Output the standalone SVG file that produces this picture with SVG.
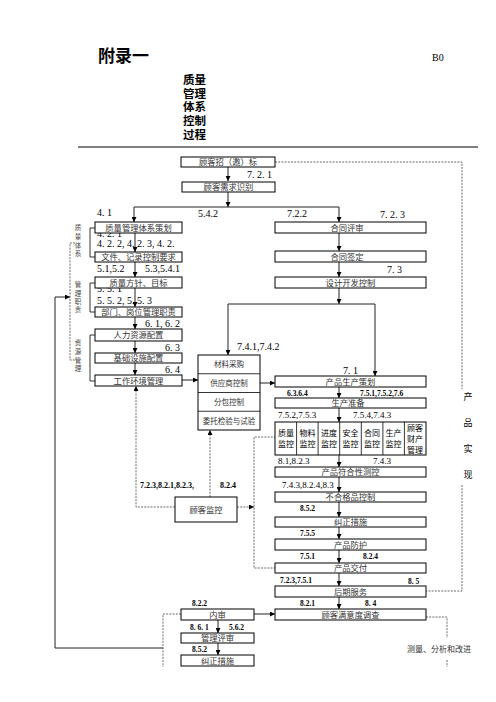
<svg xmlns="http://www.w3.org/2000/svg" width="496" height="702" viewBox="0 0 496 702">
<style>
text{font-family:"Liberation Serif","Noto Sans CJK SC",serif;fill:#000}
.t{font-size:8.3px;fill:#333;text-anchor:middle}
.tm{font-size:7.5px;fill:#333;text-anchor:middle}
.l{font-size:10px}
.m{font-size:9px}
.s{font-size:7.5px;font-weight:bold}
.s8{font-size:8px;font-weight:bold}
.v{font-size:6.5px;fill:#444;text-anchor:middle}
.b{fill:#fff;stroke:#000;stroke-width:1}
.c{fill:none;stroke:#222;stroke-width:1}
.d{fill:none;stroke:#444;stroke-width:0.8;stroke-dasharray:2 1.2}
.k{fill:none;stroke:#000;stroke-width:0.8}
</style>
<defs>
<marker id="ah" viewBox="0 0 6 6" refX="6" refY="3" markerWidth="5" markerHeight="5" orient="auto" markerUnits="userSpaceOnUse"><path d="M0,0 L6,3 L0,6 z" fill="#000"/></marker>
</defs>

<g id="header">
<text x="98" y="62" style="font-family:'Noto Sans CJK SC',sans-serif;font-size:17px;font-weight:bold">附录一</text>
<text x="432" y="61" style="font-size:10px">B0</text>
<g style="font-family:'Noto Sans CJK SC',sans-serif;font-size:11.5px;font-weight:bold">
<text x="183" y="84">质量</text>
<text x="183" y="98">管理</text>
<text x="183" y="111">体系</text>
<text x="183" y="125">控制</text>
<text x="183" y="139">过程</text>
</g>
<line x1="78" y1="147" x2="478" y2="147" stroke="#000" stroke-width="1"/>
</g>

<g id="labels">
<text class="l" x="247" y="178">7. 2. 1</text>
<text class="l" x="97" y="216">4. 1</text>
<text class="l" x="198" y="217">5.4.2</text>
<text class="l" x="287" y="217">7.2.2</text>
<text class="l" x="380" y="218">7. 2. 3</text>
<text class="l" x="97" y="236.5">4. 2. 1</text>
<text class="l" x="97" y="247">4. 2. 2, 4. 2. 3, 4. 2.</text>
<text class="l" x="97" y="272">5.1,5.2</text>
<text class="l" x="145" y="272">5.3,5.4.1</text>
<text class="l" x="97" y="291.5">5. 5. 1</text>
<text class="l" x="97" y="304">5. 5. 2, 5. 5. 3</text>
<text class="l" x="145" y="327">6. 1, 6. 2</text>
<text class="l" x="165" y="351">6. 3</text>
<text class="l" x="165" y="373">6. 4</text>
<text class="l" x="387" y="273">7. 3</text>
<text class="l" x="237" y="350">7.4.1,7.4.2</text>
<text class="l" x="343" y="374">7. 1</text>
<text class="s" x="287" y="396">6.3.6.4</text>
<text class="s" x="360" y="396">7.5.1,7.5.2,7.6</text>
<text class="m" x="278" y="418">7.5.2,7.5.3</text>
<text class="m" x="353" y="418">7.5.4,7.4.3</text>
<text class="m" x="278" y="464">8.1,8.2.3</text>
<text class="m" x="373" y="464">7.4.3</text>
<text class="m" x="282" y="488">7.4.3,8.2.4,8.3</text>
<text class="s" x="300" y="511">8.5.2</text>
<text class="s" x="300" y="536">7.5.5</text>
<text class="s" x="300" y="559">7.5.1</text>
<text class="s" x="363" y="559">8.2.4</text>
<text class="s" x="280" y="583">7.2.3,7.5.1</text>
<text class="s" x="408" y="584">8. 5</text>
<text class="s" x="300" y="606">8.2.1</text>
<text class="s" x="365" y="606">8. 4</text>
<text class="s" x="192" y="606">8.2.2</text>
<text class="s" x="190" y="630">8. 6. 1</text>
<text class="s" x="229" y="630">5.6.2</text>
<text class="s" x="192" y="652">8.5.2</text>
<text class="s8" x="140" y="488">7.2.3,8.2.1,8.2.3,</text>
<text class="s8" x="220" y="488">8.2.4</text>
<text class="v" x="78" y="230">质</text>
<text class="v" x="78" y="239">量</text>
<text class="v" x="78" y="248">体</text>
<text class="v" x="78" y="256">系</text>
<text class="v" x="78" y="287">管</text>
<text class="v" x="78" y="296">理</text>
<text class="v" x="78" y="304">职</text>
<text class="v" x="78" y="312">责</text>
<text class="v" x="78" y="345">资</text>
<text class="v" x="78" y="354">源</text>
<text class="v" x="78" y="363">管</text>
<text class="v" x="78" y="371">理</text>
<g style="font-size:9px;fill:#333;text-anchor:middle">
<text x="468" y="400">产</text>
<text x="468" y="426">品</text>
<text x="468" y="452">实</text>
<text x="468" y="478">现</text>
</g>
<text x="439" y="652" style="font-size:8px;fill:#333;text-anchor:middle">测量、分析和改进</text>
</g>

<g id="connectors">
<path class="c" d="M228,167 V181" marker-end="url(#ah)"/>
<path class="c" d="M228,192 V207" marker-end="url(#ah)"/>
<path class="c" d="M134,207 H339 V222" marker-end="url(#ah)"/>
<path class="c" d="M134,207 V222" marker-end="url(#ah)"/>
<path class="c" d="M135,233 V252" marker-end="url(#ah)"/>
<path class="c" d="M135,262 V277" marker-end="url(#ah)"/>
<path class="c" d="M135,288 V307" marker-end="url(#ah)"/>
<path class="c" d="M135,317 V329" marker-end="url(#ah)"/>
<path class="c" d="M135,341 V353" marker-end="url(#ah)"/>
<path class="c" d="M135,363 V375" marker-end="url(#ah)"/>
<path class="c" d="M182,380 H198" marker-end="url(#ah)"/>
<path class="c" d="M339,233 V251" marker-end="url(#ah)"/>
<path class="c" d="M339,262 V277" marker-end="url(#ah)"/>
<path class="c" d="M339,288 V304" marker-end="url(#ah)"/>
<path class="c" d="M228,304 H375 V376" marker-end="url(#ah)"/>
<path class="c" d="M228,304 V355" marker-end="url(#ah)"/>
<path class="c" d="M260,383 H275" marker-end="url(#ah)"/>
<path class="c" d="M339,387 V398" marker-end="url(#ah)"/>
<path class="c" d="M339,408 V422" marker-end="url(#ah)"/>
<path class="c" d="M339,455 V467" marker-end="url(#ah)"/>
<path class="c" d="M339,477 V492" marker-end="url(#ah)"/>
<path class="c" d="M339,502 V517" marker-end="url(#ah)"/>
<path class="c" d="M339,527 V539" marker-end="url(#ah)"/>
<path class="c" d="M339,550 V563" marker-end="url(#ah)"/>
<path class="c" d="M339,573 V586" marker-end="url(#ah)"/>
<path class="c" d="M339,597 V609" marker-end="url(#ah)"/>
<path class="c" d="M254,614 H275" marker-end="url(#ah)"/>
<path class="c" d="M218,620 V633" marker-end="url(#ah)"/>
<path class="c" d="M218,643 V655" marker-end="url(#ah)"/>
<path class="c" d="M163,648 H55 V297 H70" marker-end="url(#ah)"/>
<path class="d" d="M275,162 H462 V389"/>
<path class="d" d="M462,485 V591 H426"/>
<path class="d" d="M426,617 H447 V638"/>
<path class="d" d="M447,660 V667"/>
<path class="d" d="M181,614 H163 V667"/>
<path class="d" d="M175,507 H136 V386" marker-end="url(#ah)"/>
<path class="d" d="M210,497 V430" marker-end="url(#ah)"/>
<path class="d" d="M237,507 H254" marker-end="url(#ah)"/>
<path class="d" d="M276,437 H254 V568 H275"/>
<path class="k" d="M95,228 H90 V257 H95"/>
<path class="k" d="M95,283 H90 V312 H95"/>
<path class="k" d="M95,335 H90 V381 H95"/>
<path class="d" d="M75,243 H70 V360 H75"/>
</g>

<g id="n-zhaobiao"><rect class="b" x="181" y="157" width="94" height="10"/><text class="t" x="228" y="165">顾客招（邀）标</text></g>
<g id="n-xuqiu"><rect class="b" x="182" y="182" width="93" height="10"/><text class="t" x="228.5" y="190">顾客需求识别</text></g>

<g id="n-tixi"><rect class="b" x="95" y="222" width="87" height="11"/><text class="t" x="138.5" y="230.5">质量管理体系策划</text></g>
<g id="n-wenjian"><rect class="b" x="95" y="252" width="87" height="10"/><text class="t" x="138.5" y="260">文件、记录控制要求</text></g>
<g id="n-fangzhen"><rect class="b" x="95" y="277" width="87" height="11"/><text class="t" x="138.5" y="285.5">质量方针、目标</text></g>
<g id="n-zhize"><rect class="b" x="95" y="307" width="87" height="10"/><text class="t" x="138.5" y="315">部门、岗位管理职责</text></g>
<g id="n-renli"><rect class="b" x="95" y="329" width="87" height="12"/><text class="t" x="138.5" y="338">人力资源配置</text></g>
<g id="n-jichu"><rect class="b" x="95" y="353" width="87" height="10"/><text class="t" x="138.5" y="361">基础设施配置</text></g>
<g id="n-huanjing"><rect class="b" x="95" y="375" width="87" height="11"/><text class="t" x="138.5" y="383.5">工作环境管理</text></g>

<g id="n-caigou">
<rect class="b" x="198" y="355" width="62" height="75"/>
<line class="k" x1="198" y1="373.75" x2="260" y2="373.75"/>
<line class="k" x1="198" y1="392.5" x2="260" y2="392.5"/>
<line class="k" x1="198" y1="411.25" x2="260" y2="411.25"/>
<text class="tm" x="229" y="367">材料采购</text>
<text class="tm" x="229" y="386">供应商控制</text>
<text class="tm" x="229" y="404.5">分包控制</text>
<text class="tm" x="229" y="423.5">委托检验与试验</text>
</g>

<g id="n-jiankong"><rect class="b" x="175" y="497" width="62" height="25"/><text class="t" x="206" y="512.5">顾客监控</text></g>

<g id="n-pingshen"><rect class="b" x="275" y="222" width="151" height="11"/><text class="t" x="347" y="230.5">合同评审</text></g>
<g id="n-qianding"><rect class="b" x="275" y="251" width="151" height="11"/><text class="t" x="347" y="259.5">合同签定</text></g>
<g id="n-sheji"><rect class="b" x="275" y="277" width="151" height="11"/><text class="t" x="350.5" y="285.5">设计开发控制</text></g>
<g id="n-cehua"><rect class="b" x="275" y="376" width="151" height="11"/><text class="t" x="350.5" y="384.5">产品生产策划</text></g>
<g id="n-zhunbei"><rect class="b" x="275" y="398" width="151" height="10"/><text class="t" x="348" y="406">生产准备</text></g>

<g id="n-monitor" style="font-size:8px;fill:#333;text-anchor:middle">
<rect class="b" x="275" y="422" width="151" height="33"/>
<path class="k" d="M296.6,422V455M318.1,422V455M339.7,422V455M361.3,422V455M382.9,422V455M404.4,422V455"/>
<text x="286" y="436">质量</text><text x="286" y="447">监控</text>
<text x="307.5" y="436">物料</text><text x="307.5" y="447">监控</text>
<text x="329" y="436">进度</text><text x="329" y="447">监控</text>
<text x="350.5" y="436">安全</text><text x="350.5" y="447">监控</text>
<text x="372" y="436">合同</text><text x="372" y="447">监控</text>
<text x="393.5" y="436">生产</text><text x="393.5" y="447">监控</text>
<text x="415" y="431">顾客</text><text x="415" y="442">财产</text><text x="415" y="453">管理</text>
</g>

<g id="n-fuhe"><rect class="b" x="275" y="467" width="151" height="10"/><text class="t" x="350.5" y="475">产品符合性测控</text></g>
<g id="n-buhege"><rect class="b" x="275" y="492" width="151" height="10"/><text class="t" x="350.5" y="500">不合格品控制</text></g>
<g id="n-jiuzheng1"><rect class="b" x="275" y="517" width="151" height="10"/><text class="t" x="350.5" y="525">纠正措施</text></g>
<g id="n-fanghu"><rect class="b" x="275" y="539" width="151" height="11"/><text class="t" x="350.5" y="547.5">产品防护</text></g>
<g id="n-jiaofu"><rect class="b" x="275" y="563" width="151" height="10"/><text class="t" x="350.5" y="571">产品交付</text></g>
<g id="n-fuwu"><rect class="b" x="275" y="586" width="151" height="11"/><text class="t" x="350.5" y="594.5">后期服务</text></g>
<g id="n-manyi"><rect class="b" x="275" y="609" width="151" height="11"/><text class="t" x="350.5" y="617.5">顾客满意度调查</text></g>

<g id="n-neishen"><rect class="b" x="181" y="609" width="73" height="11"/><text class="t" x="217.5" y="617.5">内审</text></g>
<g id="n-guanli"><rect class="b" x="181" y="633" width="73" height="10"/><text class="t" x="217.5" y="641">管理评审</text></g>
<g id="n-jiuzheng2"><rect class="b" x="181" y="655" width="73" height="11"/><text class="t" x="217.5" y="663.5">纠正措施</text></g>
</svg>
